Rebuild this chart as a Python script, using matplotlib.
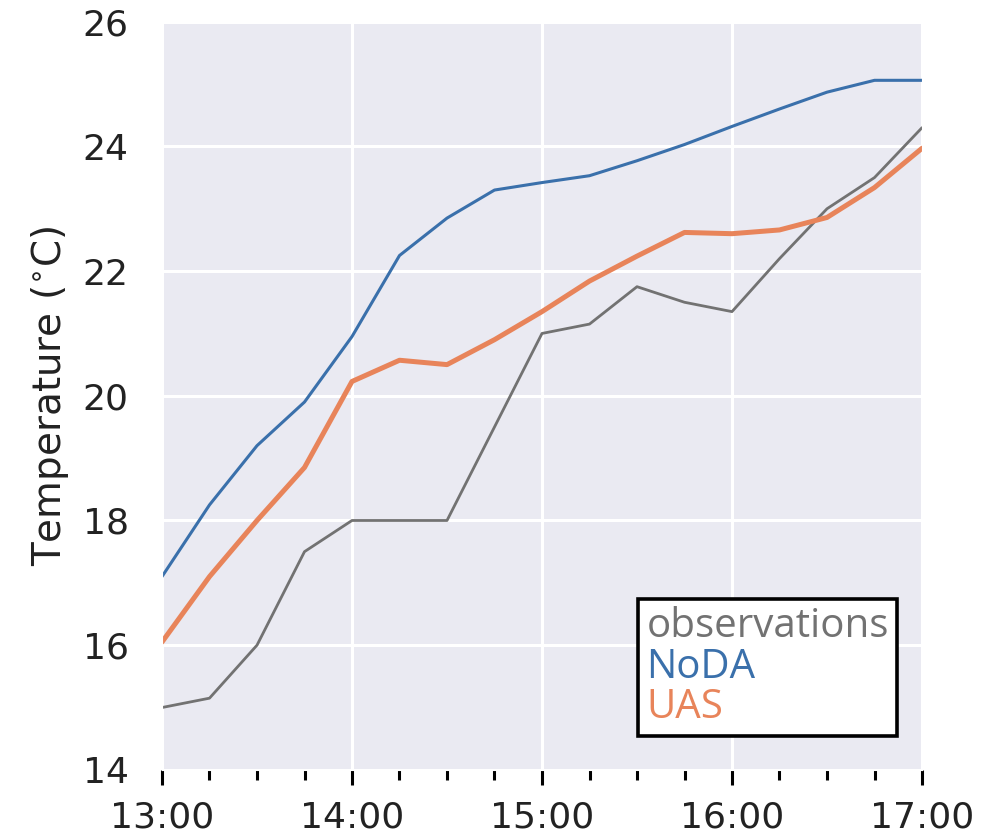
import matplotlib
matplotlib.use("Agg")
import matplotlib.pyplot as plt
import matplotlib.dates as mdates
import pandas as pd
import seaborn as sns

sns.set_style("darkgrid")

times = ["13:00", "13:15", "13:30", "13:45", "14:00", "14:15", "14:30", "14:45",
         "15:00", "15:15", "15:30", "15:45", "16:00", "16:15", "16:30", "16:45", "17:00"]
obs = [15.0, 15.15, 16.0, 17.5, 18.0, 18.0, 18.0, 19.5,
       21.0, 21.15, 21.75, 21.5, 21.35, 22.2, 23.0, 23.5, 24.3]
noda = [17.1, 18.25, 19.2, 19.9, 20.95, 22.25, 22.85, 23.3,
        23.42, 23.53, 23.77, 24.03, 24.32, 24.6, 24.87, 25.06, 25.06]
uas = [16.05, 17.1, 18.0, 18.85, 20.23, 20.57, 20.5, 20.9,
       21.35, 21.84, 22.24, 22.62, 22.6, 22.66, 22.86, 23.34, 23.97]

t = pd.to_datetime(["2019-07-19 " + s for s in times])

fig = plt.figure(figsize=(10, 8.35), dpi=100)
ax = fig.add_axes([0.162, 0.078, 0.76, 0.896])

ax.plot(t, obs, color="#727272", lw=2.0, label="observations")
ax.plot(t, noda, color="#3a70ab", lw=2.2, label="NoDA")
ax.plot(t, uas, color="#e8845a", lw=3.6, label="UAS")

ax.set_xlim(t[0], t[-1])
ax.set_ylim(14, 26)
ax.set_yticks([14, 16, 18, 20, 22, 24, 26])
ax.xaxis.set_major_locator(mdates.HourLocator())
ax.xaxis.set_minor_locator(mdates.MinuteLocator(byminute=[15, 30, 45]))
ax.xaxis.set_major_formatter(mdates.DateFormatter("%H:%M"))
ax.grid(True, which="major", color="white", lw=2.2)
ax.grid(False, which="minor")

ax.tick_params(axis="x", which="major", direction="out", length=11, width=2.2,
               color="black", bottom=True, labelsize=26, pad=11, labelcolor="#222222")
ax.tick_params(axis="x", which="minor", direction="out", length=7, width=2.2,
               color="black", bottom=True)
ax.tick_params(axis="y", length=0, labelsize=26, labelcolor="#222222", pad=24)
ax.set_ylabel("Temperature ($^{\\circ}$C)", fontsize=28, color="#222222", labelpad=8)

leg = ax.legend(loc="lower right", bbox_to_anchor=(0.967, 0.045), borderaxespad=0,
                handlelength=0, handletextpad=0, labelspacing=0.0,
                borderpad=0.2, frameon=True, fancybox=False, framealpha=1,
                labelcolor="linecolor", prop={"family": "Open Sans", "size": 29})
for h in leg.legend_handles:
    h.set_visible(False)
leg.get_frame().set_edgecolor("black")
leg.get_frame().set_linewidth(2.6)
leg.get_frame().set_facecolor("white")

plt.savefig("out.png", dpi=100)
